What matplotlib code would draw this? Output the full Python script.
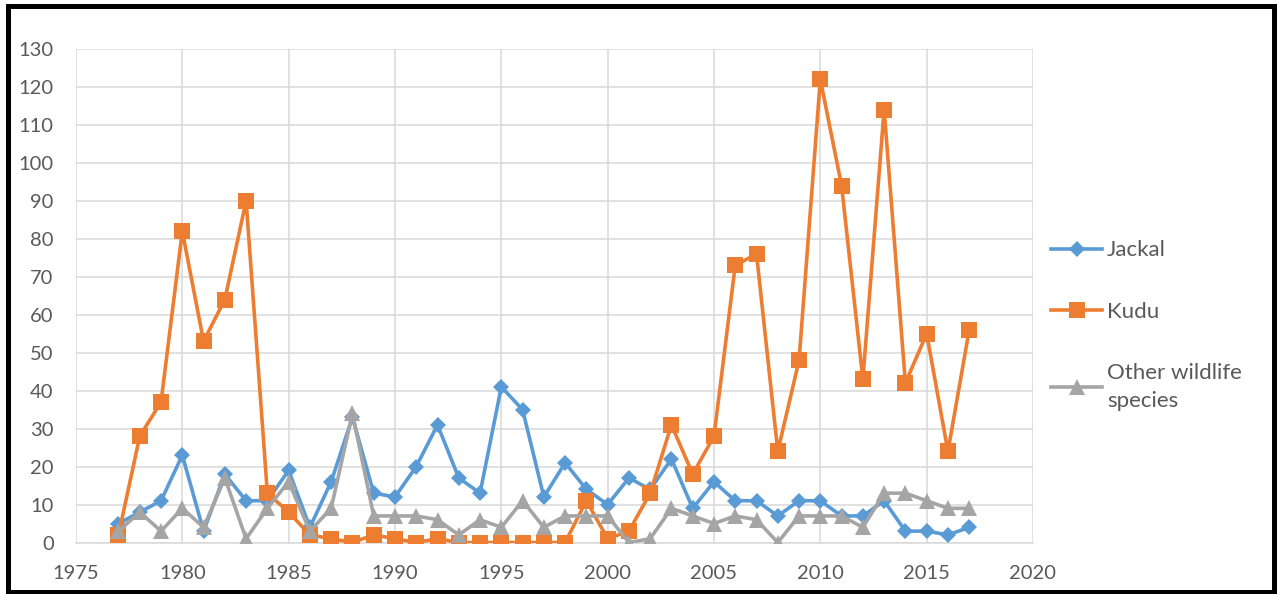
import matplotlib.pyplot as plt
from matplotlib.patches import Rectangle

plt.rcParams['font.family'] = ['Lato', 'DejaVu Sans']

years = list(range(1977, 2018))

jackal = [5, 8, 11, 23, 3, 18, 11, 11, 19, 4,
          16, 33, 13, 12, 20, 31, 17, 13, 41, 35,
          12, 21, 14, 10, 17, 14, 22, 9, 16, 11,
          11, 7, 11, 11, 7, 7, 11, 3, 3, 2, 4]

kudu = [2, 28, 37, 82, 53, 64, 90, 13, 8, 2,
        1, 0, 2, 1, 0, 1, 0, 0, 0, 0,
        0, 0, 11, 1, 3, 13, 31, 18, 28, 73,
        76, 24, 48, 122, 94, 43, 114, 42, 55, 24, 56]

other = [3, 8, 3, 9, 4, 17, 1, 9, 16, 3,
         9, 34, 7, 7, 7, 6, 2, 6, 4, 11,
         4, 7, 7, 7, 0, 1, 9, 7, 5, 7,
         6, 0, 7, 7, 7, 4, 13, 13, 11, 9, 9]

series_names = ['Jackal', 'Kudu', 'Other wildlife\nspecies']
colors = ['#5B9BD5', '#ED7D31', '#A5A5A5']
markers = ['D', 's', '^']
msizes = [8.5, 12, 12]

fig = plt.figure(figsize=(12.81, 5.94), dpi=100)
ax = fig.add_axes([0.0593, 0.0867, 0.7471, 0.8308])

for vals, name, c, m, ms in zip([jackal, kudu, other], series_names, colors, markers, msizes):
    ax.plot(years, vals, color=c, lw=2.6, marker=m, markersize=ms,
            markeredgewidth=0, label=name, zorder=3)

ax.set_xlim(1975, 2020)
ax.set_ylim(0, 130)
ax.set_xticks(range(1975, 2021, 5))
ax.set_yticks(range(0, 131, 10))
ax.grid(True, color='#D9D9D9', lw=1.1, zorder=0)
for s in ['top', 'right', 'left']:
    ax.spines[s].set_visible(False)
ax.spines['bottom'].set_color('#D9D9D9')
ax.spines['bottom'].set_linewidth(1.1)
ax.tick_params(length=0, labelsize=14.5, labelcolor='#595959')
ax.tick_params(axis='y', pad=16)
ax.tick_params(axis='x', pad=16)

leg = fig.legend(loc='upper left', bbox_to_anchor=(0.812, 0.614), frameon=False,
                 fontsize=16, labelcolor='#595959', handlelength=2.3,
                 handletextpad=0.2, labelspacing=1.85, borderpad=0)
for t in leg.get_texts():
    t.set_linespacing(1.55)

# thick black frame around the whole chart
fig.add_artist(Rectangle((0.0062, 0.0034), 0.9886, 0.9857, transform=fig.transFigure,
                         fill=False, edgecolor='black', lw=3.6))

fig.savefig('out.png', dpi=100)
